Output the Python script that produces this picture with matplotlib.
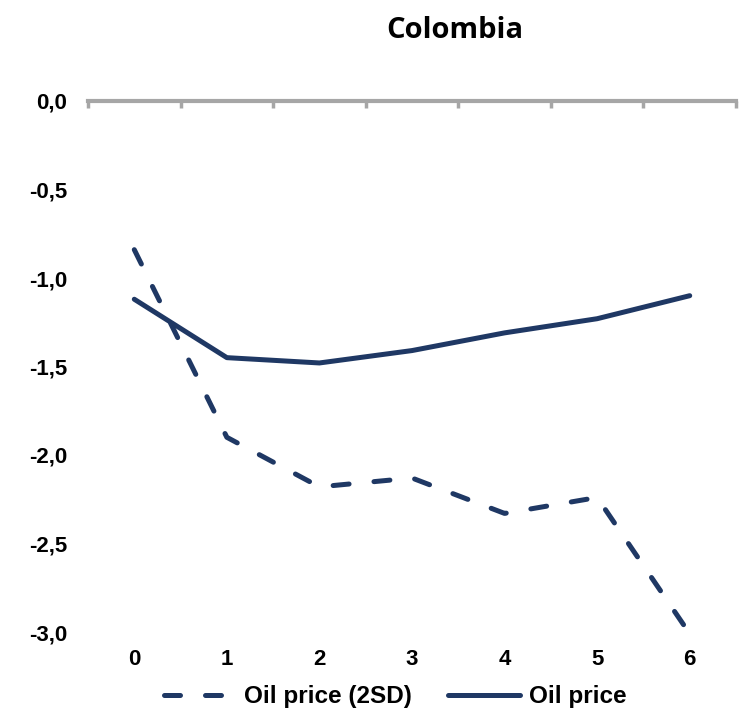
import matplotlib.pyplot as plt
import numpy as np

# Data
quarters = [0, 1, 2, 3, 4, 5, 6]
oil_price = [-1.12, -1.45, -1.48, -1.41, -1.31, -1.23, -1.10]
oil_price_2sd = [-0.84, -1.90, -2.18, -2.13, -2.33, -2.24, -3.01]
y_ticks = [0.0, -0.5, -1.0, -1.5, -2.0, -2.5, -3.0]
y_labels = ['0,0', '-0,5', '-1,0', '-1,5', '-2,0', '-2,5', '-3,0']

navy = '#1F3864'
grey = '#A6A6A6'

plt.rcParams['font.family'] = ['Liberation Sans', 'DejaVu Sans']

fig = plt.figure(figsize=(7.44, 7.14), dpi=100)
ax = fig.add_axes([88/744, 1-632/714, (736-88)/744, (632-101)/714])

ax.plot(quarters, oil_price_2sd, color=navy, lw=3.6,
        linestyle=(0, (3.2, 5.0)), dash_capstyle='round', label='Oil price (2SD)')
ax.plot(quarters, oil_price, color=navy, lw=3.6, solid_capstyle='round',
        label='Oil price')

ax.set_xlim(-0.5, 6.5)
ax.set_ylim(-3.0, 0.0)

# spines: only the grey zero line at the top
for s in ['left', 'right', 'bottom']:
    ax.spines[s].set_visible(False)
ax.spines['top'].set_color(grey)
ax.spines['top'].set_linewidth(3)

ax.set_xticks(quarters)
ax.set_xticklabels([str(q) for q in quarters], fontsize=16, fontweight='bold')
ax.set_xticks(np.arange(-0.5, 7, 1), minor=True)
ax.tick_params(axis='x', which='major', bottom=True, top=False, length=0, pad=12)
ax.tick_params(axis='x', which='minor', bottom=False, top=True, direction='in',
               length=5, width=2.5, color=grey)

ax.set_yticks(y_ticks)
ax.set_yticklabels(y_labels, fontsize=16, fontweight='bold')
ax.tick_params(axis='y', length=0, pad=15)

fig.text(455/744, 1-30/714, 'Colombia', ha='center', va='center',
         fontsize=21, fontweight='bold', family=['Open Sans', 'DejaVu Sans'])

leg = fig.legend(loc='center', bbox_to_anchor=(395/744, 1-697/714), ncol=2,
                 frameon=False, handlelength=2.96, columnspacing=1.5,
                 handletextpad=0.35, prop={'weight': 'bold', 'size': 17.5})

fig.savefig('out.png', dpi=100)
